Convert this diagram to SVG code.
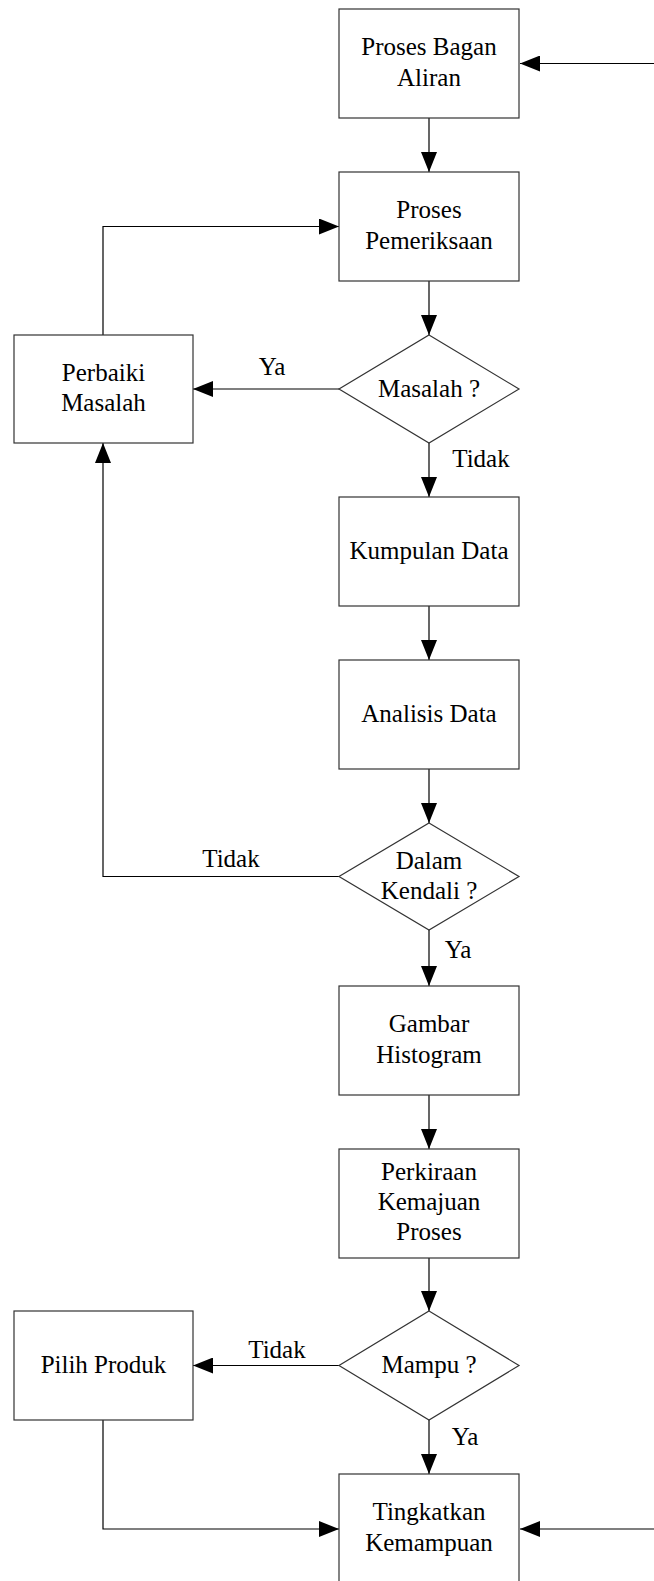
<svg xmlns="http://www.w3.org/2000/svg" width="654" height="1581" viewBox="0 0 654 1581">
<defs>
<marker id="ah" viewBox="0 0 20 16" refX="20" refY="8" markerWidth="20" markerHeight="16" markerUnits="userSpaceOnUse" orient="auto">
<path d="M0,0 L20,8 L0,16 Z" fill="#000"/>
</marker>
<style>
.n{fill:#fff;stroke:#333;stroke-width:1.2}
.t{font-family:"Liberation Serif","Times New Roman",serif;font-size:25px;fill:#000;text-anchor:middle}
.c{fill:none;stroke:#000;stroke-width:1.2}
</style>
</defs>
<rect width="654" height="1581" fill="#fff"/>
<g id="connectors">
<path class="c" d="M654,63.5 H520" marker-end="url(#ah)"/>
<path class="c" d="M429,118 V172" marker-end="url(#ah)"/>
<path class="c" d="M429,281 V335" marker-end="url(#ah)"/>
<path class="c" d="M339,389 H193" marker-end="url(#ah)"/>
<path class="c" d="M103,335 V226.5 H339" marker-end="url(#ah)"/>
<path class="c" d="M429,443 V497" marker-end="url(#ah)"/>
<path class="c" d="M429,606 V660" marker-end="url(#ah)"/>
<path class="c" d="M429,769 V823" marker-end="url(#ah)"/>
<path class="c" d="M339,876.5 H103 V443" marker-end="url(#ah)"/>
<path class="c" d="M429,930 V986" marker-end="url(#ah)"/>
<path class="c" d="M429,1095 V1149" marker-end="url(#ah)"/>
<path class="c" d="M429,1258 V1311" marker-end="url(#ah)"/>
<path class="c" d="M339,1365.5 H193" marker-end="url(#ah)"/>
<path class="c" d="M429,1420 V1474" marker-end="url(#ah)"/>
<path class="c" d="M103,1420 V1529 H339" marker-end="url(#ah)"/>
<path class="c" d="M654,1529 H520" marker-end="url(#ah)"/>
<text class="t" x="272" y="375">Ya</text>
<text class="t" x="481" y="467">Tidak</text>
<text class="t" x="231" y="867">Tidak</text>
<text class="t" x="458" y="958">Ya</text>
<text class="t" x="277" y="1358">Tidak</text>
<text class="t" x="465" y="1445">Ya</text>
</g>
<g id="n1"><rect class="n" x="339" y="9" width="180" height="109"/><text class="t" x="429" y="55">Proses Bagan</text><text class="t" x="429" y="86">Aliran</text></g>
<g id="n2"><rect class="n" x="339" y="172" width="180" height="109"/><text class="t" x="429" y="218">Proses</text><text class="t" x="429" y="249">Pemeriksaan</text></g>
<g id="d1"><path class="n" d="M429,335 L519,389 L429,443 L339,389 Z"/><text class="t" x="429" y="397">Masalah ?</text></g>
<g id="n3"><rect class="n" x="14" y="335" width="179" height="108"/><text class="t" x="103.5" y="381">Perbaiki</text><text class="t" x="103.5" y="411">Masalah</text></g>
<g id="n4"><rect class="n" x="339" y="497" width="180" height="109"/><text class="t" x="429" y="559">Kumpulan Data</text></g>
<g id="n5"><rect class="n" x="339" y="660" width="180" height="109"/><text class="t" x="429" y="722">Analisis Data</text></g>
<g id="d2"><path class="n" d="M429,823 L519,876.5 L429,930 L339,876.5 Z"/><text class="t" x="429" y="869">Dalam</text><text class="t" x="429" y="899">Kendali ?</text></g>
<g id="n6"><rect class="n" x="339" y="986" width="180" height="109"/><text class="t" x="429" y="1032">Gambar</text><text class="t" x="429" y="1063">Histogram</text></g>
<g id="n7"><rect class="n" x="339" y="1149" width="180" height="109"/><text class="t" x="429" y="1180">Perkiraan</text><text class="t" x="429" y="1210">Kemajuan</text><text class="t" x="429" y="1240">Proses</text></g>
<g id="d3"><path class="n" d="M429,1311 L519,1365.5 L429,1420 L339,1365.5 Z"/><text class="t" x="429" y="1373">Mampu ?</text></g>
<g id="n8"><rect class="n" x="14" y="1311" width="179" height="109"/><text class="t" x="103.5" y="1373">Pilih Produk</text></g>
<g id="n9"><rect class="n" x="339" y="1474" width="180" height="109"/><text class="t" x="429" y="1520">Tingkatkan</text><text class="t" x="429" y="1551">Kemampuan</text></g>
</svg>
